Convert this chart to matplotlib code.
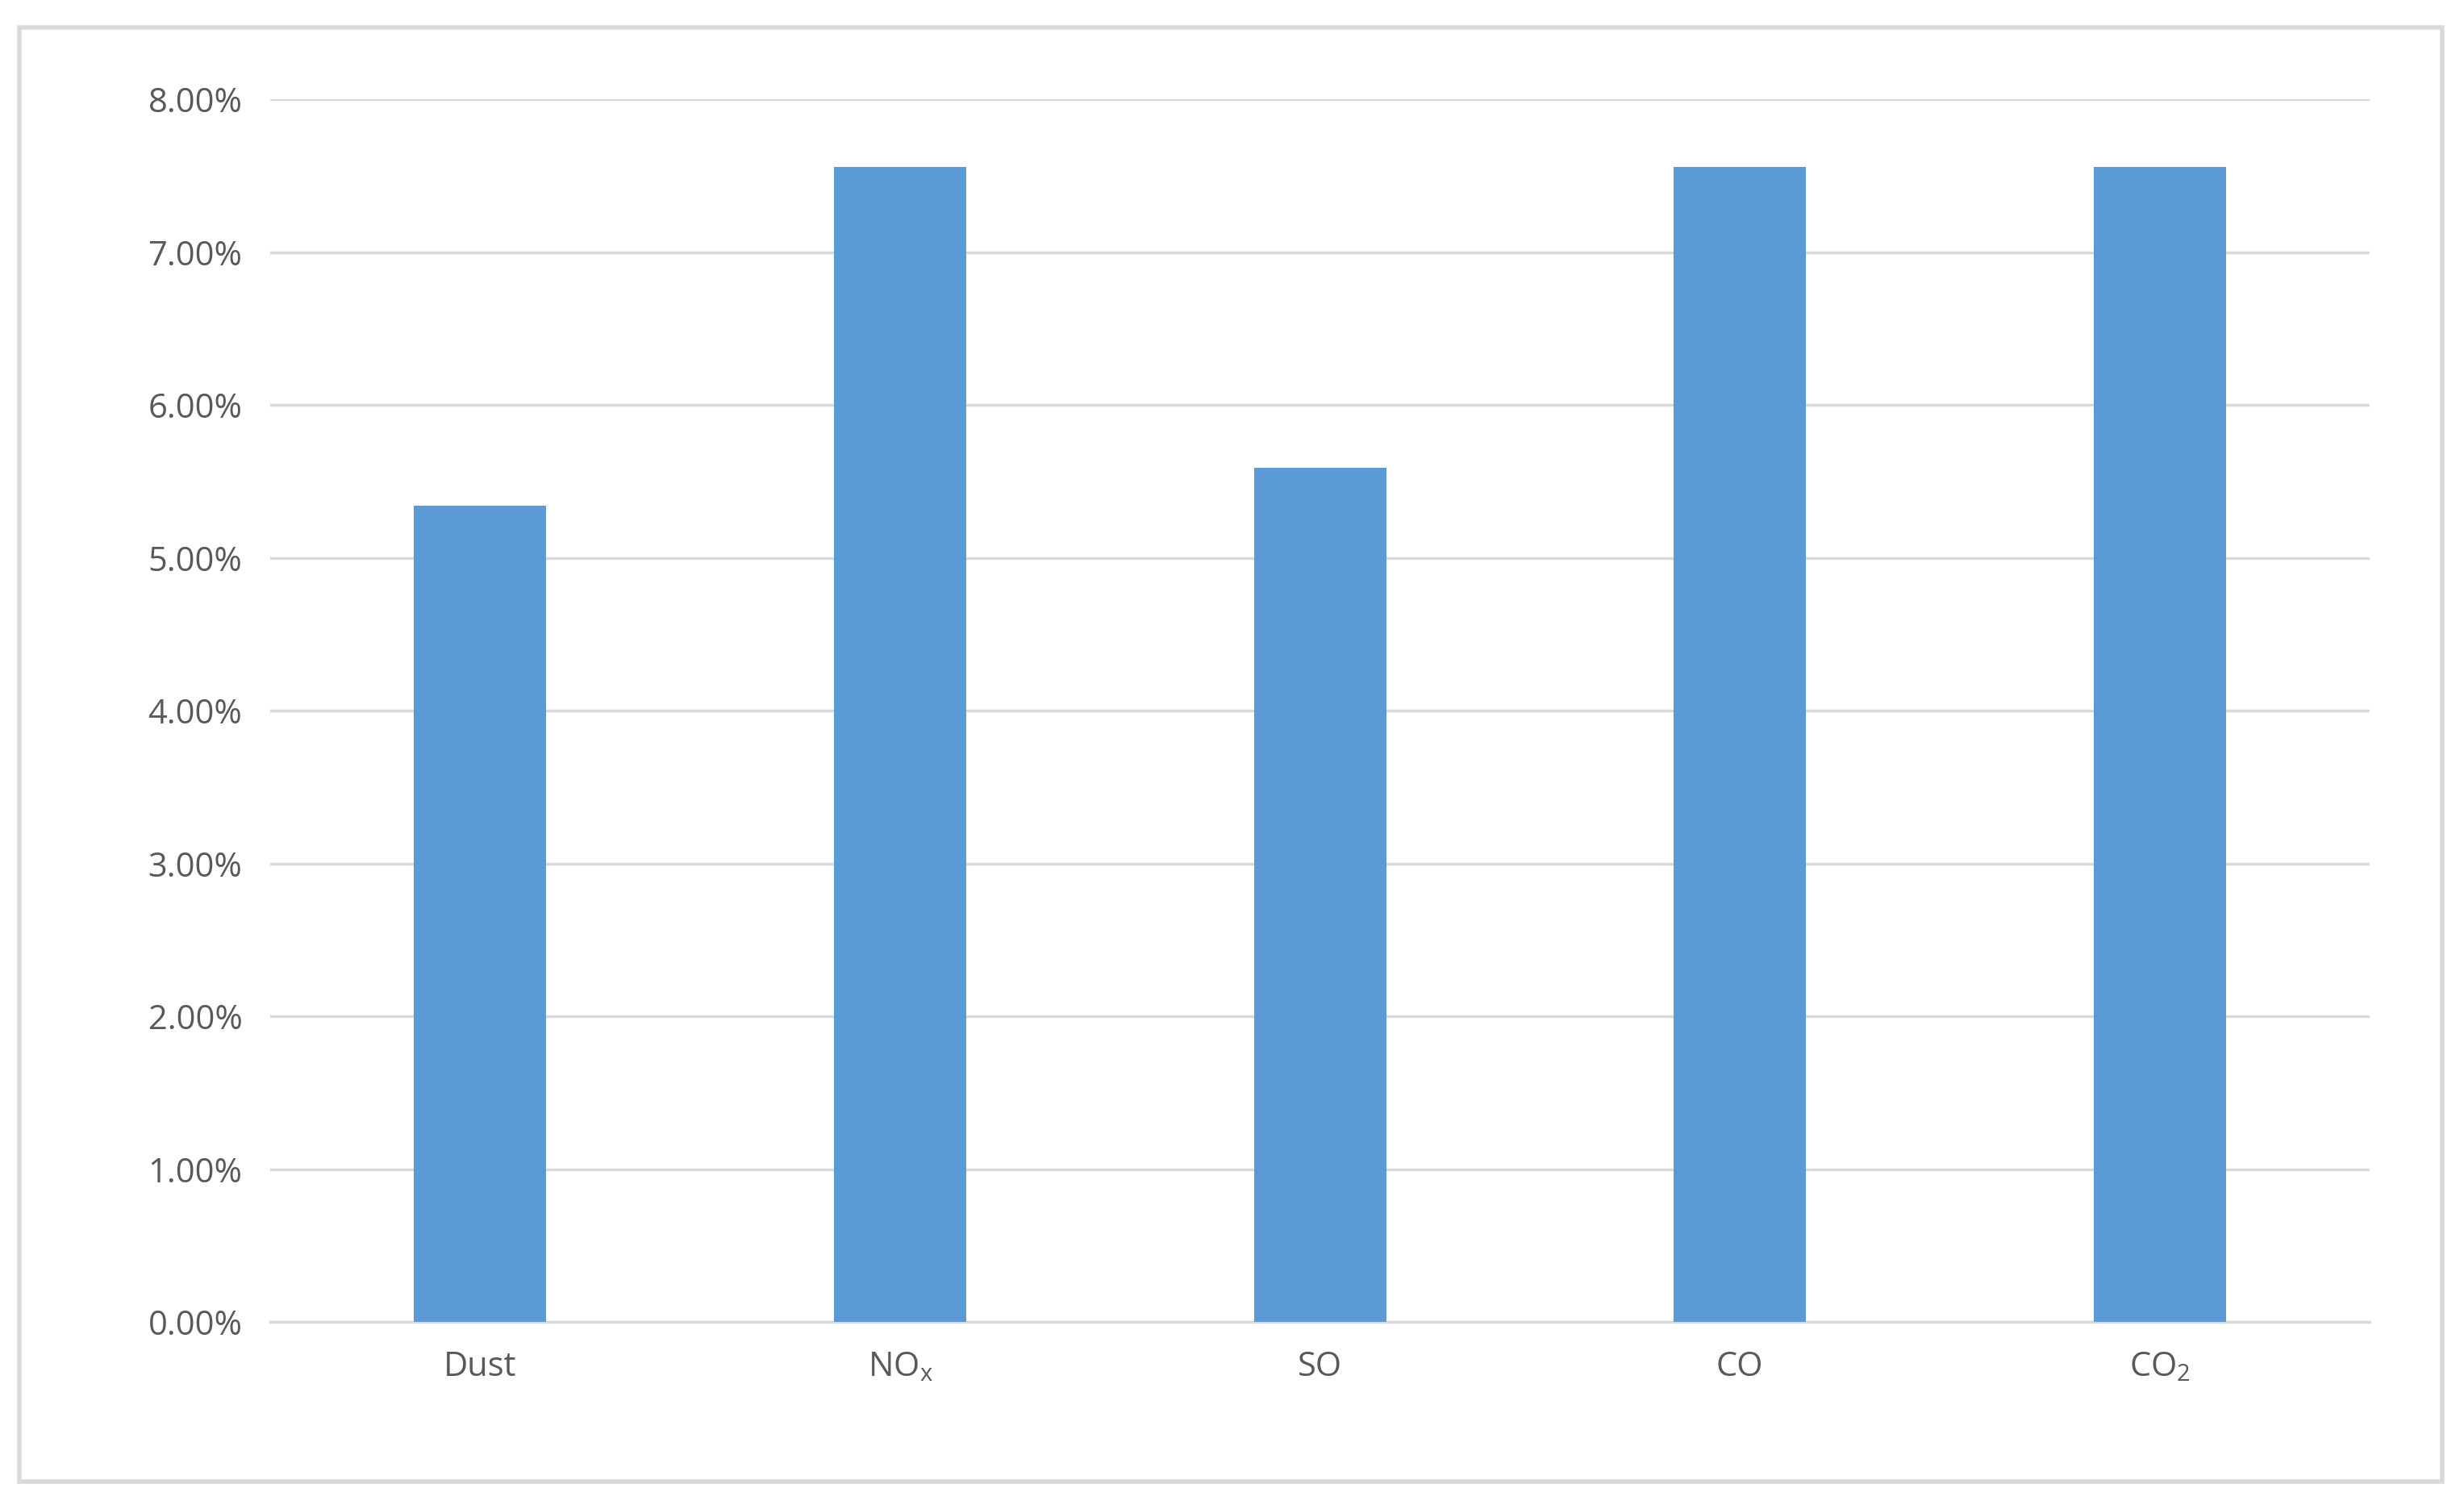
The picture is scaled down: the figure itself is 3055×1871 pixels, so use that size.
import matplotlib
matplotlib.use("Agg")
import matplotlib.pyplot as plt
from matplotlib.patches import Rectangle
from matplotlib.ticker import FuncFormatter, MultipleLocator

categories = ["Dust", "NO$_\\mathregular{x}$", "SO", "CO", "CO$_\\mathregular{2}$"]
values = [5.34, 7.56, 5.59, 7.56, 7.56]

plt.rcParams['font.family'] = ['Open Sans', 'DejaVu Sans']
fig = plt.figure(figsize=(30.55, 18.71), dpi=100)
ax = fig.add_axes([0.1097, 0.124, 0.852, 0.81])
x = range(len(categories))
ax.bar(x, values, width=0.315, color="#5B9BD5", zorder=3)
ax.set_xlim(-0.5, len(categories) - 0.5)
ax.set_ylim(0, 8)
ax.yaxis.set_major_locator(MultipleLocator(1))
ax.yaxis.set_major_formatter(FuncFormatter(lambda v, p: f"{v:.2f}%"))
ax.grid(axis='y', color="#D9D9D9", linewidth=2.5, zorder=0)
for s in ['top', 'right', 'left']:
    ax.spines[s].set_visible(False)
ax.spines['bottom'].set_color("#D9D9D9")
ax.spines['bottom'].set_linewidth(2.5)
ax.tick_params(axis='both', length=0, labelsize=30, labelcolor="#595959", pad=25)
ax.set_xticks(list(x))
ax.set_xticklabels(categories)
fig.patches.append(Rectangle((0.008, 0.018), 0.983, 0.964, transform=fig.transFigure,
                             fill=False, edgecolor="#D9D9D9", linewidth=4))
fig.savefig("out.png", dpi=100, facecolor="white")
